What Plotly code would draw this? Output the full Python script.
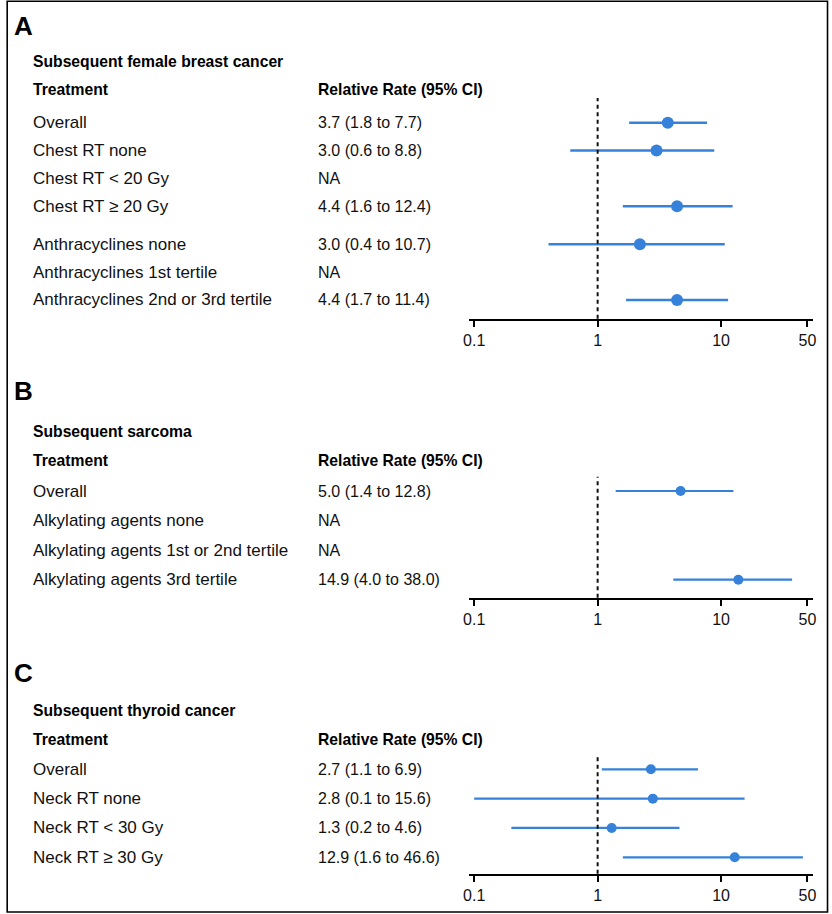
import math
import plotly.graph_objects as go

W, H = 832, 914
FONT = "Liberation Sans, Arial, sans-serif"
BLUE = "#3682da"

# ---------------- Data ----------------
# Panel A
a_letter = "A"
a_title = "Subsequent female breast cancer"
a_labels = ["Overall", "Chest RT none", "Chest RT < 20 Gy", "Chest RT ≥ 20 Gy",
            "Anthracyclines none", "Anthracyclines 1st tertile",
            "Anthracyclines 2nd or 3rd tertile"]
a_rr_text = ["3.7 (1.8 to 7.7)", "3.0 (0.6 to 8.8)", "NA", "4.4 (1.6 to 12.4)",
             "3.0 (0.4 to 10.7)", "NA", "4.4 (1.7 to 11.4)"]
a_est = [3.7, 3.0, None, 4.4, 2.2, None, 4.4]
a_lo = [1.8, 0.6, None, 1.6, 0.4, None, 1.7]
a_hi = [7.7, 8.8, None, 12.4, 10.7, None, 11.4]
a_group = [0, 0, 0, 0, 1, 1, 1]

# Panel B
b_letter = "B"
b_title = "Subsequent sarcoma"
b_labels = ["Overall", "Alkylating agents none",
            "Alkylating agents 1st or 2nd tertile", "Alkylating agents 3rd tertile"]
b_rr_text = ["5.0 (1.4 to 12.8)", "NA", "NA", "14.9 (4.0 to 38.0)"]
b_est = [4.7, None, None, 13.8]
b_lo = [1.4, None, None, 4.1]
b_hi = [12.6, None, None, 37.6]
b_group = [0, 0, 0, 0]

# Panel C
c_letter = "C"
c_title = "Subsequent thyroid cancer"
c_labels = ["Overall", "Neck RT none", "Neck RT < 30 Gy", "Neck RT ≥ 30 Gy"]
c_rr_text = ["2.7 (1.1 to 6.9)", "2.8 (0.1 to 15.6)", "1.3 (0.2 to 4.6)",
             "12.9 (1.6 to 46.6)"]
c_est = [2.7, 2.8, 1.3, 12.9]
c_lo = [1.08, 0.1, 0.2, 1.6]
c_hi = [6.5, 15.5, 4.6, 46.0]
c_group = [0, 0, 0, 0]

col_headers = ["Treatment", "Relative Rate (95% CI)"]
tick_vals = [0.1, 1, 10, 50]
tick_text = ["0.1", "1", "10", "50"]
x_min, x_max = 0.0912, 55.4

# ---------------- Layout geometry (pixels) ----------------
panels = [
    dict(letter=a_letter, title=a_title, labels=a_labels, rr=a_rr_text, est=a_est,
         lo=a_lo, hi=a_hi, group=a_group, letter_y=26, title_y=61.5, head_y=89.5,
         top=98, axis=318.7, first=122.7, step=27.87, gap=0.36, msize=12, lw=2.5),
    dict(letter=b_letter, title=b_title, labels=b_labels, rr=b_rr_text, est=b_est,
         lo=b_lo, hi=b_hi, group=b_group, letter_y=391, title_y=431.5, head_y=460.5,
         top=476.7, axis=597.7, first=491, step=29.57, gap=0.0, msize=10, lw=2.2),
    dict(letter=c_letter, title=c_title, labels=c_labels, rr=c_rr_text, est=c_est,
         lo=c_lo, hi=c_hi, group=c_group, letter_y=673, title_y=710, head_y=739,
         top=754, axis=873.7, first=769.3, step=29.33, gap=0.0, msize=10, lw=2.2),
]

X_LEFT_PX, X_RIGHT_PX = 468.3, 815.7
PAD = 8  # annotation inner padding compensation
LABEL_X, RR_X, LETTER_X = 33 - PAD, 321 - PAD, 14 - PAD
LAB_SIZE, NUM_SIZE, BOLD_SIZE = 17, 16, 15.7


def py(p):
    return 1 - p / H


fig = go.Figure()
annotations = []
shapes = []

for i, p in enumerate(panels):
    n = i + 1
    xa = "x" if n == 1 else f"x{n}"
    ya = "y" if n == 1 else f"y{n}"
    rows = [k + g * p["gap"] for k, g in zip(range(len(p["labels"])), p["group"])]

    # CI lines
    lx, ly = [], []
    for r, lo, hi in zip(rows, p["lo"], p["hi"]):
        if lo is None:
            continue
        lx += [lo, hi, None]
        ly += [r, r, None]
    fig.add_trace(go.Scatter(x=lx, y=ly, mode="lines", xaxis=xa, yaxis=ya,
                             line=dict(color=BLUE, width=p["lw"]),
                             hoverinfo="skip", showlegend=False))
    ex = [e for e in p["est"] if e is not None]
    ey = [r for r, e in zip(rows, p["est"]) if e is not None]
    fig.add_trace(go.Scatter(x=ex, y=ey, mode="markers", xaxis=xa, yaxis=ya,
                             marker=dict(color=BLUE, size=p["msize"], line=dict(width=0)),
                             showlegend=False, cliponaxis=False))

    bottom = (p["axis"] - p["first"]) / p["step"]
    top = -(p["first"] - p["top"]) / p["step"]
    xkey = "xaxis" if n == 1 else f"xaxis{n}"
    ykey = "yaxis" if n == 1 else f"yaxis{n}"
    fig.update_layout({
        xkey: dict(type="log", range=[math.log10(x_min), math.log10(x_max)],
                   domain=[X_LEFT_PX / W, X_RIGHT_PX / W], anchor=ya,
                   showgrid=False, zeroline=False, showline=True,
                   linecolor="#000", linewidth=2, ticks="outside", ticklen=6,
                   tickwidth=2, tickcolor="#000", tickvals=tick_vals,
                   ticktext=tick_text, ticklabelstandoff=0,
                   tickfont=dict(family=FONT, size=16, color="#111"),
                   fixedrange=True),
        ykey: dict(range=[bottom, top], domain=[py(p["axis"]), py(p["top"])],
                   anchor=xa, visible=False, fixedrange=True),
    })

    # reference line at 1
    shapes.append(dict(type="line", xref=xa, yref=f"{ya} domain", x0=1, x1=1,
                       y0=0, y1=1, line=dict(color="#111", width=2, dash="4px,3.5px")))

    # texts
    annotations.append(dict(text=f"<b>{p['letter']}</b>", xref="paper", yref="paper",
                            x=LETTER_X / W, y=py(p["letter_y"]), xanchor="left",
                            yanchor="middle", showarrow=False,
                            font=dict(family=FONT, size=26, color="#000")))
    annotations.append(dict(text=f"<b>{p['title']}</b>", xref="paper", yref="paper",
                            x=LABEL_X / W, y=py(p["title_y"]), xanchor="left",
                            yanchor="middle", showarrow=False,
                            font=dict(family=FONT, size=BOLD_SIZE, color="#000")))
    for hx, ht in zip([LABEL_X, RR_X], col_headers):
        annotations.append(dict(text=f"<b>{ht}</b>", xref="paper", yref="paper",
                                x=hx / W, y=py(p["head_y"]), xanchor="left",
                                yanchor="middle", showarrow=False,
                                font=dict(family=FONT, size=BOLD_SIZE, color="#000")))
    for r, lab, rr in zip(rows, p["labels"], p["rr"]):
        annotations.append(dict(text=lab, xref="paper", yref=ya, x=LABEL_X / W, y=r,
                                xanchor="left", yanchor="middle", showarrow=False,
                                font=dict(family=FONT, size=LAB_SIZE, color="#111")))
        annotations.append(dict(text=rr, xref="paper", yref=ya, x=RR_X / W, y=r,
                                xanchor="left", yanchor="middle", showarrow=False,
                                font=dict(family=FONT, size=NUM_SIZE, color="#111")))

# outer frame
shapes.append(dict(type="rect", xref="paper", yref="paper", x0=1.2 / W, x1=(W - 1.5) / W,
                   y0=1 - (H - 2) / H, y1=1 - 1.2 / H,
                   line=dict(color="#000", width=1.6), layer="above"))

fig.update_layout(width=W, height=H, margin=dict(l=0, r=0, t=0, b=0),
                  paper_bgcolor="white", plot_bgcolor="white",
                  annotations=annotations, shapes=shapes, showlegend=False,
                  font=dict(family=FONT))

fig.write_html("out.html", config={"displayModeBar": False},
               post_script="document.body.style.margin='0';document.body.style.overflow='hidden';")
